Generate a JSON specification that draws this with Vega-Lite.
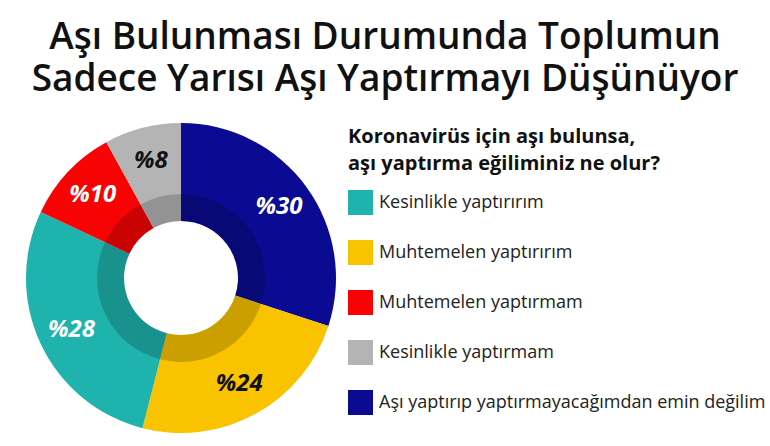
{
  "$schema": "https://vega.github.io/schema/vega-lite/v6.json",
  "autosize": "none",
  "width": 362,
  "height": 310,
  "padding": {"top": 123, "left": 0, "right": 408, "bottom": 13},
  "background": "white",
  "title": {
    "text": ["Aşı Bulunması Durumunda Toplumun", "Sadece Yarısı Aşı Yaptırmayı Düşünüyor"],
    "font": "Open Sans",
    "fontSize": 37,
    "fontWeight": 600,
    "color": "#111111",
    "anchor": "middle",
    "dx": 204,
    "lineHeight": 42,
    "offset": 24
  },
  "data": {
    "values": [
      {"cat": "Aşı yaptırıp yaptırmayacağımdan emin değilim", "pct": 30, "label": "%30", "ord": 1},
      {"cat": "Muhtemelen yaptırırım", "pct": 24, "label": "%24", "ord": 2},
      {"cat": "Kesinlikle yaptırırım", "pct": 28, "label": "%28", "ord": 3},
      {"cat": "Muhtemelen yaptırmam", "pct": 10, "label": "%10", "ord": 4},
      {"cat": "Kesinlikle yaptırmam", "pct": 8, "label": "%8", "ord": 5}
    ]
  },
  "encoding": {
    "theta": {"field": "pct", "type": "quantitative", "stack": true},
    "order": {"field": "ord", "type": "quantitative"}
  },
  "layer": [
    {
      "mark": {"type": "arc", "outerRadius": 155, "innerRadius": 57, "stroke": null},
      "encoding": {
        "color": {
          "field": "cat",
          "type": "nominal",
          "scale": {
            "domain": ["Kesinlikle yaptırırım", "Muhtemelen yaptırırım", "Muhtemelen yaptırmam", "Kesinlikle yaptırmam", "Aşı yaptırıp yaptırmayacağımdan emin değilim"],
            "range": ["#1fb3ae", "#f9c300", "#f70303", "#b4b4b4", "#0b0a92"]
          },
          "legend": {
            "title": ["Koronavirüs için aşı bulunsa,", "aşı yaptırma eğiliminiz ne olur?"],
            "orient": "none",
            "legendX": 348,
            "legendY": 4,
            "titleFont": "Open Sans",
            "titleFontSize": 20,
            "titleFontWeight": 700,
            "titleColor": "#111111",
            "titleLineHeight": 27,
            "titlePadding": 16,
            "titleLimit": 420,
            "labelFont": "Open Sans",
            "labelFontSize": 18,
            "labelColor": "#222222",
            "labelLimit": 420,
            "labelOffset": 6,
            "symbolType": "square",
            "symbolSize": 625,
            "symbolStrokeWidth": 0,
            "symbolOpacity": 1,
            "rowPadding": 25
          }
        }
      }
    },
    {
      "mark": {"type": "arc", "outerRadius": 84, "innerRadius": 57, "color": "black", "opacity": 0.18, "stroke": null}
    },
    {
      "mark": {"type": "text", "radius": 121, "font": "Open Sans", "fontSize": 24, "fontWeight": "bold", "fontStyle": "italic"},
      "encoding": {
        "text": {"field": "label", "type": "nominal"},
        "color": {
          "condition": {"test": "datum.cat === 'Muhtemelen yaptırırım' || datum.cat === 'Kesinlikle yaptırmam'", "value": "#111111"},
          "value": "white"
        }
      }
    }
  ]
}
